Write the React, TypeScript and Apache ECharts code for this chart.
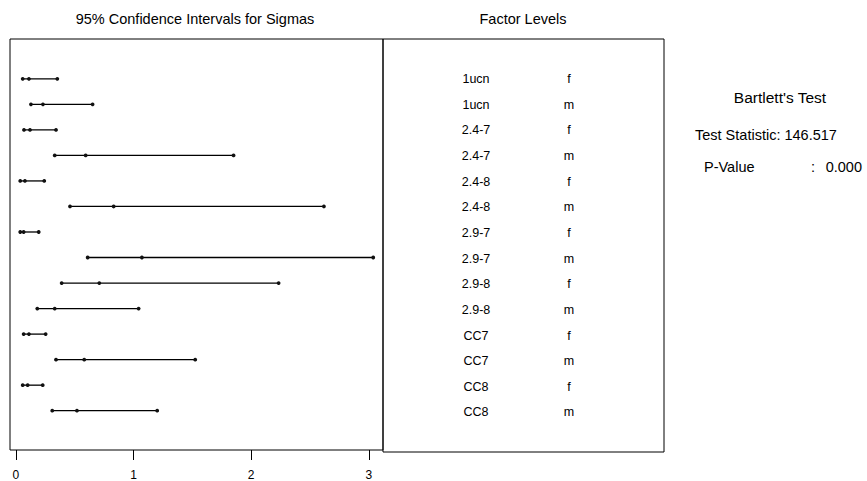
import React, { useEffect, useRef } from "react";
import * as echarts from "echarts";

const factorLevels = ["1ucn", "1ucn", "2.4-7", "2.4-7", "2.4-8", "2.4-8", "2.9-7", "2.9-7", "2.9-8", "2.9-8", "CC7", "CC7", "CC8", "CC8"];
const sexes = ["f", "m", "f", "m", "f", "m", "f", "m", "f", "m", "f", "m", "f", "m"];
const lowerBounds = [0.058, 0.128, 0.069, 0.33, 0.037, 0.46, 0.037, 0.61, 0.389, 0.182, 0.066, 0.341, 0.058, 0.309];
const sigmas = [0.111, 0.23, 0.12, 0.593, 0.077, 0.831, 0.066, 1.071, 0.709, 0.33, 0.111, 0.581, 0.1, 0.519];
const upperBounds = [0.352, 0.652, 0.341, 1.85, 0.241, 2.618, 0.194, 3.037, 2.233, 1.043, 0.253, 1.524, 0.228, 1.201];
const xTicks = [0, 1, 2, 3];
const testStatistic = "146.517";
const pValue = "0.000";

const FONT = "'Liberation Sans', Arial, sans-serif";

export default function App() {
  const ref = useRef<HTMLDivElement>(null);
  useEffect(() => {
    if (!ref.current) return;
    const chart = echarts.init(ref.current, null, { renderer: "svg" });
    const rows = factorLevels.map((_, i) => [i, lowerBounds[i], sigmas[i], upperBounds[i]]);
    const yRange = { min: -1.56, max: 14.54 };
    const option: any = {
      animation: false,
      backgroundColor: "#fff",
      textStyle: { fontFamily: FONT },
      grid: [
        { left: 10, top: 39, width: 373, height: 413, show: true, borderColor: "#000", borderWidth: 1, backgroundColor: "transparent" },
        { left: 383, top: 39, width: 281, height: 413, show: true, borderColor: "#000", borderWidth: 1, backgroundColor: "transparent" },
      ],
      xAxis: [
        {
          gridIndex: 0,
          type: "value",
          min: -0.05,
          max: 3.12,
          position: "bottom",
          axisLine: { show: false, onZero: false },
          splitLine: { show: false },
          axisTick: { show: true, customValues: xTicks, length: 10, lineStyle: { color: "#000", width: 1 } },
          axisLabel: { show: true, customValues: xTicks, margin: 19, color: "#000", fontSize: 12, fontFamily: FONT },
        },
        { gridIndex: 1, type: "value", min: 0, max: 1, show: false },
      ],
      yAxis: [
        { gridIndex: 0, type: "value", inverse: true, ...yRange, show: false },
        { gridIndex: 1, type: "value", inverse: true, ...yRange, show: false },
      ],
      series: [
        {
          type: "custom",
          xAxisIndex: 0,
          yAxisIndex: 0,
          coordinateSystem: "cartesian2d",
          encode: { x: [1, 2, 3], y: 0 },
          data: rows,
          renderItem: (params: any, api: any) => {
            const r = api.value(0);
            const lo = api.coord([api.value(1), r]);
            const mid = api.coord([api.value(2), r]);
            const hi = api.coord([api.value(3), r]);
            const dot = (p: number[]) => ({ type: "circle", shape: { cx: p[0], cy: p[1], r: 1.9 }, style: { fill: "#111" } });
            return {
              type: "group",
              children: [
                { type: "line", shape: { x1: lo[0], y1: lo[1], x2: hi[0], y2: hi[1] }, style: { stroke: "#000", lineWidth: 1.3 } },
                dot(lo),
                dot(mid),
                dot(hi),
              ],
            };
          },
        },
        {
          type: "custom",
          xAxisIndex: 1,
          yAxisIndex: 1,
          coordinateSystem: "cartesian2d",
          encode: { y: 0 },
          data: factorLevels.map((_, i) => [i]),
          renderItem: (params: any, api: any) => {
            const i = params.dataIndex;
            const r = api.value(0);
            const p1 = api.coord([0.331, r]);
            const p2 = api.coord([0.662, r]);
            const st = { fill: "#000", fontSize: 12.5, fontFamily: FONT, align: "center", verticalAlign: "middle" };
            return {
              type: "group",
              children: [
                { type: "text", x: p1[0], y: p1[1], style: { ...st, text: factorLevels[i] } },
                { type: "text", x: p2[0], y: p2[1], style: { ...st, text: sexes[i] } },
              ],
            };
          },
        },
      ],
      graphic: [
        { type: "text", x: 195, y: 19, style: { text: "95% Confidence Intervals for Sigmas", fill: "#000", fontSize: 14.5, fontFamily: FONT, align: "center", verticalAlign: "middle" } },
        { type: "text", x: 523, y: 19, style: { text: "Factor Levels", fill: "#000", fontSize: 14.5, fontFamily: FONT, align: "center", verticalAlign: "middle" } },
        { type: "text", x: 780, y: 97, style: { text: "Bartlett's Test", fill: "#000", fontSize: 15.5, fontFamily: FONT, align: "center", verticalAlign: "middle" } },
        { type: "text", x: 695, y: 135, style: { text: "Test Statistic: " + testStatistic, fill: "#000", fontSize: 14.5, fontFamily: FONT, align: "left", verticalAlign: "middle" } },
        { type: "text", x: 704, y: 167, style: { text: "P-Value", fill: "#000", fontSize: 14.5, fontFamily: FONT, align: "left", verticalAlign: "middle" } },
        { type: "text", x: 811, y: 167, style: { text: ":", fill: "#000", fontSize: 14.5, fontFamily: FONT, align: "left", verticalAlign: "middle" } },
        { type: "text", x: 862, y: 167, style: { text: pValue, fill: "#000", fontSize: 14.5, fontFamily: FONT, align: "right", verticalAlign: "middle" } },
      ],
    };
    chart.setOption(option);
    return () => chart.dispose();
  }, []);
  return <div ref={ref} style={{ position: "fixed", left: 0, top: 0, width: 867, height: 481 }} />;
}
